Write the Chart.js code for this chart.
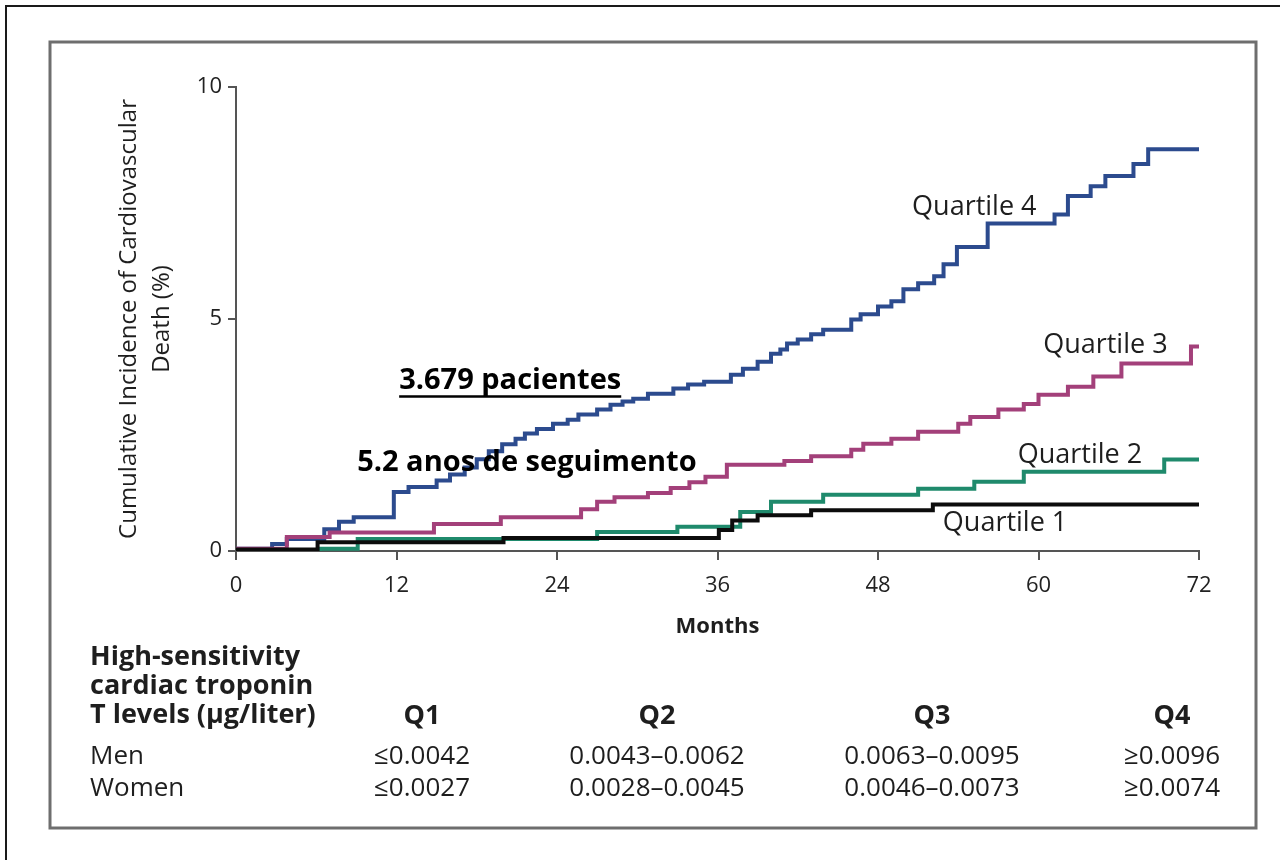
<!DOCTYPE html>
<html>
<head>
<meta charset="utf-8">
<script src="https://cdn.jsdelivr.net/npm/chart.js@4.4.1/dist/chart.umd.min.js"></script>
<style>
  body { margin: 0; background: #fff; }
  canvas { display: block; }
</style>
</head>
<body>
<canvas id="canvas" width="1280" height="860"></canvas>
<script>
// cumulative incidence (%), month of each step -> new value
var q1_months = [0, 6.1, 20.0, 36.1, 37.1, 39.0, 43.0, 52.1, 72];
var q1_values = [0.03, 0.19, 0.28, 0.45, 0.66, 0.77, 0.88, 1.0, 1.0];

var q2_months = [0, 6.3, 9.1, 27.0, 33.0, 37.7, 40.0, 43.9, 51.0, 55.2, 58.9, 69.4, 72];
var q2_values = [0, 0.05, 0.26, 0.41, 0.52, 0.84, 1.06, 1.21, 1.34, 1.49, 1.71, 1.97, 1.97];

var q3_months = [0, 3.8, 7.0, 14.8, 19.8, 25.8, 27.0, 28.3, 30.8, 32.5, 33.9, 35.1, 36.7, 41.0, 43.0,
                 46.0, 46.9, 49.0, 51.0, 54.0, 54.9, 57.0, 58.9, 60.0, 62.2, 64.1, 66.2, 71.4, 72];
var q3_values = [0.05, 0.3, 0.4, 0.58, 0.73, 0.9, 1.06, 1.16, 1.25, 1.36, 1.48, 1.6, 1.86, 1.94, 2.04,
                 2.18, 2.31, 2.42, 2.57, 2.74, 2.89, 3.05, 3.17, 3.37, 3.54, 3.76, 4.04, 4.41, 4.41];

var q4_months = [0, 2.7, 3.8, 6.6, 7.7, 8.8, 11.8, 12.9, 15.0, 16.0, 17.1, 18.0, 18.9, 19.9, 20.9,
                 21.6, 22.5, 23.7, 24.8, 25.6, 27.0, 28.0, 28.9, 29.7, 30.8, 32.7, 33.8, 35.0, 37.0,
                 37.9, 39.0, 40.0, 40.7, 41.2, 42.0, 43.0, 43.9, 46.0, 46.7, 48.0, 49.0, 49.9, 51.0,
                 52.2, 52.9, 53.9, 56.2, 61.2, 62.2, 63.9, 65.0, 67.1, 68.2, 72];
var q4_values = [0.05, 0.15, 0.26, 0.47, 0.63, 0.73, 1.27, 1.38, 1.52, 1.65, 1.8, 1.98, 2.15, 2.3, 2.42,
                 2.53, 2.63, 2.74, 2.83, 2.94, 3.05, 3.15, 3.22, 3.28, 3.39, 3.5, 3.59, 3.65, 3.8,
                 3.93, 4.08, 4.25, 4.34, 4.47, 4.56, 4.67, 4.77, 4.99, 5.1, 5.27, 5.38, 5.64, 5.77,
                 5.92, 6.18, 6.55, 7.06, 7.25, 7.65, 7.86, 8.08, 8.34, 8.66, 8.66];

var series_names = ['Quartile 1', 'Quartile 2', 'Quartile 3', 'Quartile 4'];

// table under the chart
var table_head = ['High-sensitivity', 'cardiac troponin', 'T levels (\u03bcg/liter)'];
var table_cols = ['Q1', 'Q2', 'Q3', 'Q4'];
var men_values = ['\u22640.0042', '0.0043\u20130.0062', '0.0063\u20130.0095', '\u22650.0096'];
var women_values = ['\u22640.0027', '0.0028\u20130.0045', '0.0046\u20130.0073', '\u22650.0074'];

var FONT = '"Open Sans", "DejaVu Sans", sans-serif';

function points(months, values) {
  return months.map(function (m, i) { return { x: m, y: values[i] }; });
}

var extras = {
  id: 'extras',
  beforeDraw: function (chart) {
    var ctx = chart.ctx;
    ctx.save();
    ctx.fillStyle = '#fff';
    ctx.fillRect(0, 0, chart.width, chart.height);
    // outer black edge (top + left only)
    ctx.strokeStyle = '#1a1a1a';
    ctx.lineWidth = 2;
    ctx.beginPath();
    ctx.moveTo(6, 860);
    ctx.lineTo(6, 6);
    ctx.lineTo(1280, 6);
    ctx.stroke();
    // grey panel frame
    ctx.strokeStyle = '#6e6e6e';
    ctx.lineWidth = 3;
    ctx.strokeRect(50, 42, 1206, 786);
    ctx.restore();
  },
  afterDraw: function (chart) {
    var ctx = chart.ctx;
    var xs = chart.scales.x, ys = chart.scales.y;
    ctx.save();
    ctx.fillStyle = '#1e1e1e';
    ctx.textAlign = 'center';
    ctx.textBaseline = 'middle';

    // series labels
    ctx.font = '27px ' + FONT;
    var lab = [[57.5, 0.60], [63.1, 2.07], [65.0, 4.44], [55.2, 7.41]];
    for (var i = 0; i < series_names.length; i++) {
      ctx.fillText(series_names[i], xs.getPixelForValue(lab[i][0]), ys.getPixelForValue(lab[i][1]));
    }

    // annotations
    ctx.fillStyle = '#000';
    ctx.font = 'bold 29px ' + FONT;
    var ax = xs.getPixelForValue(20.5), ay = ys.getPixelForValue(3.68);
    ctx.fillText('3.679 pacientes', ax, ay);
    var w = ctx.measureText('3.679 pacientes').width;
    ctx.fillRect(ax - w / 2, ay + 15, w, 2.5);
    ctx.fillText('5.2 anos de seguimento', xs.getPixelForValue(21.75), ys.getPixelForValue(1.9));

    // table
    ctx.fillStyle = '#1e1e1e';
    ctx.textAlign = 'left';
    ctx.textBaseline = 'alphabetic';
    ctx.font = 'bold 27px ' + FONT;
    for (var r = 0; r < table_head.length; r++) {
      ctx.fillText(table_head[r], 90, 665 + r * 29);
    }
    ctx.font = '26px ' + FONT;
    ctx.fillText('Men', 90, 764);
    ctx.fillText('Women', 90, 796);
    var colX = [422, 657, 932, 1172];
    ctx.textAlign = 'center';
    for (var c = 0; c < table_cols.length; c++) {
      ctx.font = 'bold 27px ' + FONT;
      ctx.fillText(table_cols[c], colX[c], 724);
      ctx.font = '26px ' + FONT;
      ctx.fillText(men_values[c], colX[c], 764);
      ctx.fillText(women_values[c], colX[c], 796);
    }
    ctx.restore();
  }
};

function makeSet(label, months, values, color) {
  return {
    label: label,
    data: points(months, values),
    borderColor: color,
    borderWidth: 4,
    stepped: true,
    pointRadius: 0,
    fill: false,
    borderCapStyle: 'butt'
  };
}

new Chart(document.getElementById('canvas'), {
  type: 'line',
  data: {
    datasets: [
      makeSet(series_names[0], q1_months, q1_values, '#0c0c0c'),
      makeSet(series_names[1], q2_months, q2_values, '#1f8a6c'),
      makeSet(series_names[2], q3_months, q3_values, '#a3407a'),
      makeSet(series_names[3], q4_months, q4_values, '#2c4b8e')
    ]
  },
  options: {
    responsive: false,
    animation: false,
    layout: { padding: { left: 100, right: 81, top: 87, bottom: 209 } },
    plugins: { legend: { display: false }, tooltip: { enabled: false } },
    scales: {
      x: {
        type: 'linear',
        min: 0,
        max: 72,
        ticks: { stepSize: 12, maxRotation: 0, padding: 13, color: '#222', font: { family: FONT, size: 22 } },
        grid: { drawOnChartArea: false, tickLength: 9, color: '#555', lineWidth: 2 },
        border: { color: '#555', width: 2 },
        title: {
          display: true, text: 'Months', color: '#1e1e1e',
          font: { family: FONT, size: 22, weight: 'bold', lineHeight: '24px' },
          padding: { top: 0, bottom: 12 }
        },
        afterFit: function (s) { s.height = 100; }
      },
      y: {
        min: 0,
        max: 10,
        ticks: { stepSize: 5, padding: 6, color: '#222', font: { family: FONT, size: 22 } },
        grid: { drawOnChartArea: false, tickLength: 8, color: '#555', lineWidth: 2 },
        border: { color: '#555', width: 2 },
        title: {
          display: true, text: ['Cumulative Incidence of Cardiovascular', 'Death (%)'], color: '#1e1e1e',
          font: { family: FONT, size: 24, lineHeight: '33px' },
          padding: { top: 13, bottom: 0 }
        },
        afterFit: function (s) { s.width = 136; }
      }
    }
  },
  plugins: [extras]
});
</script>
</body>
</html>
